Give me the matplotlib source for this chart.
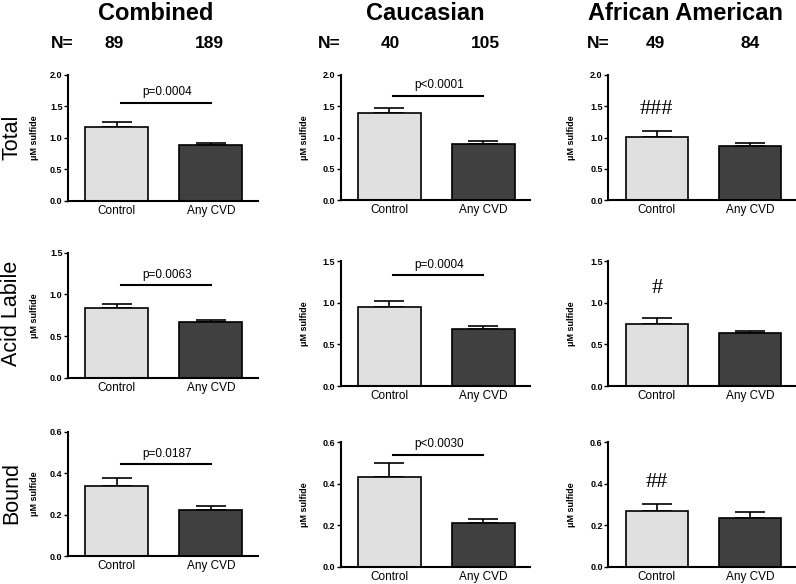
import numpy as np
import matplotlib
matplotlib.use('Agg')
import matplotlib.pyplot as plt

plt.rcParams['font.family'] = ['Liberation Sans', 'DejaVu Sans']

# column groups and sample sizes
groups = ['Combined', 'Caucasian', 'African American']
n_control = [89, 40, 49]
n_cvd = [189, 105, 84]

# rows
measures = ['Total', 'Acid Labile', 'Bound']
categories = ['Control', 'Any CVD']

# means and SEM (rows = measures, columns = groups)
control_mean = [[1.18, 1.39, 1.01],
                [0.84, 0.95, 0.75],
                [0.34, 0.433, 0.267]]
control_sem = [[0.07, 0.09, 0.10],
               [0.05, 0.07, 0.07],
               [0.036, 0.065, 0.037]]
cvd_mean = [[0.89, 0.90, 0.865],
            [0.67, 0.69, 0.635],
            [0.222, 0.21, 0.237]]
cvd_sem = [[0.035, 0.05, 0.045],
           [0.02, 0.03, 0.03],
           [0.017, 0.022, 0.027]]

# annotations
p_text = [['p=0.0004', 'p<0.0001', '###'],
          ['p=0.0063', 'p=0.0004', '#'],
          ['p=0.0187', 'p<0.0030', '##']]
p_line_y = [[1.56, 1.67, 1.45],
            [1.11, 1.335, 1.175],
            [0.443, 0.541, 0.405]]
y_max = [2.0, 1.5, 0.6]
y_step = [0.5, 0.5, 0.2]

fig = plt.figure(figsize=(7.96, 5.84), dpi=100)

# axes boxes in pixels: (left, right) per column, (top, bottom) per row/col
col_x = [(68, 258), (340.7, 530), (608.3, 796.5)]
row_y = [[(75, 200.7), (75, 200), (75, 200)],
         [(252.7, 377.7), (261.3, 386), (261.3, 386)],
         [(431.7, 556), (442.3, 566.7), (442.3, 566.7)]]
ylab_x = [-0.153, -0.167, -0.172]
W, H = 796, 584

colors = ['#e0e0e0', '#404040']

for r in range(3):
    for c in range(3):
        x0, x1 = col_x[c]
        t, b = row_y[r][c]
        ax = fig.add_axes([x0 / W, 1 - b / H, (x1 - x0) / W, (b - t) / H])
        means = [control_mean[r][c], cvd_mean[r][c]]
        sems = [control_sem[r][c], cvd_sem[r][c]]
        xs = np.arange(2)
        # one-sided (upper) SEM bars, drawn behind the bars
        ax.errorbar(xs, means, yerr=[[0, 0], sems], fmt='none', ecolor='black',
                    elinewidth=1.2, capsize=11, capthick=1.2, zorder=1)
        ax.bar(xs, means, width=0.67, color=colors, edgecolor='black',
               linewidth=1.2, zorder=2)
        ax.set_xlim(-0.52, 1.5)
        ax.set_ylim(0, y_max[r])
        ticks = np.arange(0, y_max[r] + 1e-9, y_step[r])
        ax.set_yticks(ticks)
        ax.set_yticklabels(['%.1f' % v for v in ticks], fontsize=6.5,
                           fontweight='bold')
        ax.set_xticks(xs)
        ax.set_xticklabels(categories, fontsize=8.5)
        ax.tick_params(axis='x', length=0, pad=3)
        ax.tick_params(axis='y', length=3, width=1, pad=1)
        for s in ['top', 'right']:
            ax.spines[s].set_visible(False)
        for s in ['left', 'bottom']:
            ax.spines[s].set_linewidth(1.5)
        ax.set_ylabel('\u03bcM sulfide', fontsize=6.5, fontweight='bold')
        ax.yaxis.set_label_coords(ylab_x[c], 0.5)

        if c < 2:
            ax.plot([0.04, 1.0], [p_line_y[r][c]] * 2, color='black', lw=1.5,
                    clip_on=False)
            ax.annotate(p_text[r][c], (0.53, p_line_y[r][c]), xytext=(0, 3),
                        textcoords='offset points', ha='center', va='bottom',
                        fontsize=8.5)
        else:
            ax.text(0, p_line_y[r][c], p_text[r][c], ha='center', va='center',
                    fontsize=16, family='Liberation Serif')

# column titles and N
for c in range(3):
    ctr = [156, 425, 686][c]
    fig.text(ctr / W, 1 - 14 / H, groups[c], ha='center', va='center',
             fontsize=17, fontweight='bold')
    fig.text([62, 329, 598][c] / W, 1 - 44 / H, 'N=', ha='center', va='center',
             fontsize=12.5, fontweight='bold')
    fig.text([114, 390, 655][c] / W, 1 - 44 / H, str(n_control[c]), ha='center',
             va='center', fontsize=12.5, fontweight='bold')
    fig.text([209, 485, 750][c] / W, 1 - 44 / H, str(n_cvd[c]), ha='center',
             va='center', fontsize=12.5, fontweight='bold')

# row labels
for r, yc in enumerate([137, 313, 493]):
    fig.text(12 / W, 1 - yc / H, measures[r], rotation=90, ha='center',
             va='center', fontsize=15.5)

fig.savefig('out.png', dpi=100)
